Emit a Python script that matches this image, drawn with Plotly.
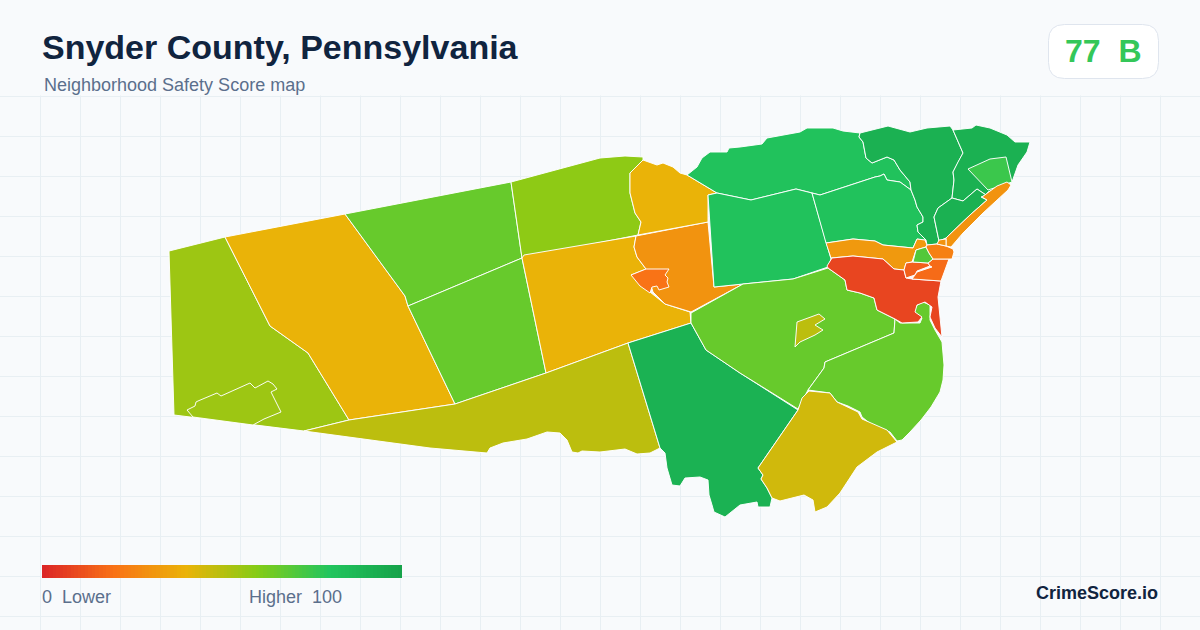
import plotly.graph_objects as go

# ---------- data ----------
legend_stops = [0, 0.2, 0.4, 0.6, 0.8, 1]
legend_colors = ["#dc2626", "#f97316", "#eab308", "#84cc16", "#22c55e", "#16a34a"]
legend_values = list(range(101))

west = [(169,251),(225,237),(270,326),(308,353),(349,420),(304,431),(174,415)]
west_town = [(187,410),(195,406),(196,402),(198,401),(217,393),(221,396),(250,383),(255,388),(268,381),(273,384),(277,389),(271,392),(281,412),(264,419),(253,425),(193,417)]
west_mid = [(225,237),(345,214),(405,296),(408,306),(455,404),(349,420),(308,353),(270,326)]
north_a = [(345,214),(511,182),(522,258),(408,306),(405,296)]
north_b = [(511,182),(600,158),(625,156),(643,157),(643,160),(630,173),(630,193),(635,213),(641,222),(638,235),(522,258)]
center_a = [(408,306),(522,258),(546,373),(455,404)]
center_b = [(522,258),(524,255),(636,236),(634,247),(637,257),(646,269),(631,275),(650,292),(665,304),(690,312),(691,323),(628,343),(546,373)]
center_c = [(636,236),(708,222),(714,287),(743,284),(691,312),(665,304),(653,292),(646,269),(637,257),(634,247)]
center_town = [(631,275),(646,269),(669,269),(665,275),(668,278),(667,282),(669,287),(659,290),(657,286),(652,287),(650,293),(640,286)]
north_c = [(643,160),(657,165),(663,163),(673,167),(680,173),(687,175),(717,193),(708,195),(708,222),(638,235),(641,222),(635,213),(630,193),(630,173)]
north_d = [(687,175),(697,167),(702,158),(710,152),(727,152),(729,148),(740,147),(762,144),(767,138),(800,132),(807,128),(833,128),(843,131),(860,133),(859,137),(863,142),(866,158),(872,163),(887,157),(894,160),(900,170),(910,182),(911,190),(900,182),(887,180),(884,174),(880,176),(875,177),(820,195),(812,193),(796,189),(751,200),(717,193)]
mid_a = [(708,195),(717,193),(751,200),(796,189),(812,193),(831,259),(828,267),(793,279),(743,284),(714,287)]
mid_b = [(812,193),(820,195),(875,177),(880,176),(884,174),(887,180),(900,182),(911,190),(915,200),(917,207),(923,217),(923,222),(917,225),(918,232),(926,240),(923,240),(917,239),(913,248),(883,245),(875,241),(853,239),(826,243)]
mid_c = [(826,243),(853,239),(875,241),(883,245),(913,248),(917,239),(925,240),(927,245),(926,247),(916,250),(912,262),(906,263),(904,270),(894,269),(883,259),(853,256),(831,258)]
borough_red = [(827,266),(832,258),(853,256),(883,259),(894,269),(904,270),(906,278),(912,279),(941,281),(938,297),(942,337),(935,328),(930,317),(932,307),(925,302),(917,305),(915,312),(922,317),(918,322),(902,323),(895,319),(877,310),(874,298),(860,293),(847,290),(845,280),(828,268)]
borough_o = [(906,263),(913,262),(928,263),(930,266),(917,271),(915,275),(906,278),(904,270)]
borough_p = [(933,259),(949,259),(941,281),(912,279),(915,275),(917,272),(932,267),(930,266),(928,263)]
borough_q = [(916,250),(926,247),(929,253),(933,259),(928,263),(913,262)]
borough_r = [(927,245),(937,244),(946,246),(953,249),(954,252),(952,259),(933,259),(929,253),(926,247)]
coast_strip = [(946,238),(970,215),(987,200),(982,197),(997,186),(1007,182),(1011,185),(1008,190),(983,213),(963,233),(951,247),(946,246)]
coast_small = [(937,244),(939,240),(946,239),(946,246)]
ridge_a = [(860,133),(873,130),(888,126),(910,132),(927,128),(950,126),(953,130),(963,153),(958,162),(953,172),(954,180),(952,198),(938,208),(934,217),(939,241),(937,244),(927,245),(926,240),(918,232),(917,225),(923,222),(923,217),(917,207),(915,200),(911,190),(910,182),(900,170),(894,160),(887,157),(872,163),(866,158),(863,142),(859,137)]
ridge_b = [(953,130),(972,128),(976,125),(990,128),(1007,135),(1015,142),(1030,142),(1027,152),(1018,165),(1013,178),(1012,182),(1000,186),(988,192),(986,195),(977,189),(963,201),(952,198),(954,180),(953,172),(958,162),(963,153)]
ridge_c = [(934,217),(938,208),(952,198),(963,201),(977,189),(986,195),(981,197),(987,200),(970,215),(946,238),(939,241)]
ridge_d = [(968,169),(990,159),(1006,157),(1012,182),(1000,186),(988,190)]
south_a = [(691,313),(743,284),(793,279),(828,268),(845,280),(847,290),(860,293),(874,298),(877,310),(895,319),(894,333),(825,362),(824,368),(808,390),(798,409),(740,373),(706,350),(691,323)]
south_town = [(797,322),(819,314),(825,319),(815,325),(823,330),(815,335),(800,342),(795,347)]
south_b = [(895,319),(900,323),(920,323),(922,318),(914,312),(917,305),(923,302),(930,305),(930,320),(935,330),(942,342),(944,365),(943,380),(940,392),(931,407),(921,420),(910,432),(902,440),(897,441),(890,432),(872,425),(862,417),(860,412),(848,406),(837,402),(830,393),(808,390),(824,368),(825,362),(894,333)]
south_c = [(809,391),(830,393),(837,402),(858,412),(862,419),(887,430),(897,442),(877,452),(857,467),(840,493),(827,507),(815,512),(813,500),(804,495),(780,501),(772,498),(767,488),(761,479),(763,475),(758,468),(798,410),(802,398)]
south_d = [(628,343),(691,323),(706,350),(740,373),(798,410),(758,468),(763,475),(761,479),(767,488),(772,498),(770,507),(758,507),(757,502),(740,505),(725,517),(714,512),(712,505),(709,495),(708,480),(700,477),(685,478),(680,486),(672,485),(669,475),(667,468),(665,453),(660,448)]
south_e = [(304,431),(349,420),(455,404),(546,373),(628,343),(660,448),(650,453),(637,454),(625,449),(600,452),(582,451),(578,453),(572,452),(567,440),(560,433),(547,432),(527,439),(503,443),(490,448),(487,453),(430,448)]

regions = [west, west_mid, north_a, north_b, center_a, center_b, center_c, north_c, north_d, mid_a, mid_b,
           mid_c, ridge_a, ridge_b, ridge_c, ridge_d, south_e, south_d, south_a, south_b, south_c,
           borough_red, borough_o, borough_p, borough_q, borough_r, coast_strip, coast_small,
           center_town, south_town, west_town]
scores = [55, 40, 66, 58, 66, 40, 30, 40, 82, 82, 82,
          32, 92, 92, 92, 75, 49, 91, 66, 66, 45,
          8, 15, 18, 70, 24, 30, 30,
          20, 49, 55]

title_text = "Snyder County, Pennsylvania"
subtitle_text = "Neighborhood Safety Score map"
badge_text = "77\u00a0\u00a0B"
brand_text = "CrimeScore.io"
legend_low_text = "0\u00a0\u00a0Lower"
legend_high_text = "Higher\u00a0\u00a0100"

# ---------- figure ----------
BG = "#f8fafc"
GRID = "#e8eff3"
INK = "#10243f"
MUTED = "#5b6f8c"
FONT = "Liberation Sans"
colorscale = [[s, c] for s, c in zip(legend_stops, legend_colors)]


def score_color(score):
    t = score / 100
    for (s0, c0), (s1, c1) in zip(colorscale, colorscale[1:]):
        if t <= s1:
            f = (t - s0) / (s1 - s0)
            a = [int(c0[i:i + 2], 16) for i in (1, 3, 5)]
            b = [int(c1[i:i + 2], 16) for i in (1, 3, 5)]
            return "rgb({},{},{})".format(*[round(u + (v - u) * f) for u, v in zip(a, b)])
    return legend_colors[-1]


fig = go.Figure()
for pts, score in zip(regions, scores):
    closed = pts + [pts[0]]
    fig.add_trace(go.Scatter(
        x=[p[0] for p in closed], y=[p[1] for p in closed],
        mode="lines", fill="toself",
        fillcolor=score_color(score),
        line=dict(color="rgba(255,255,255,0.95)", width=1),
        hoverinfo="skip", showlegend=False,
    ))

bar_dx = 360 / len(legend_values)
fig.add_trace(go.Heatmap(
    z=[legend_values], x0=42 + bar_dx / 2, dx=bar_dx, y0=571.5, dy=13,
    colorscale=colorscale, zmin=0, zmax=100, showscale=False, hoverinfo="skip",
))


def label(x, y, text, size, color, bold=False, anchor="left"):
    fig.add_annotation(
        x=x, y=y, xref="x", yref="y", text=f"<b>{text}</b>" if bold else text,
        showarrow=False, xanchor=anchor, yanchor="middle",
        font=dict(family=FONT, size=size, color=color),
    )


label(40, 47, title_text, 34, INK, bold=True)
label(42, 85, subtitle_text, 18, MUTED)
label(1102.5, 51, badge_text, 32, "#34c759", bold=True, anchor="center")
label(1160, 593, brand_text, 18, INK, bold=True, anchor="right")
label(40, 597, legend_low_text, 18, MUTED)
label(247, 597, legend_high_text, 18, MUTED)

r, x0, x1, y0, y1 = 16, 1048.5, 1158.5, 24.5, 78.5
badge_path = (f"M{x0+r},{y0} L{x1-r},{y0} Q{x1},{y0} {x1},{y0+r} L{x1},{y1-r} Q{x1},{y1} {x1-r},{y1} "
              f"L{x0+r},{y1} Q{x0},{y1} {x0},{y1-r} L{x0},{y0+r} Q{x0},{y0} {x0+r},{y0} Z")
fig.update_layout(
    width=1200, height=630, margin=dict(l=0, r=0, t=0, b=0),
    paper_bgcolor=BG, plot_bgcolor=BG, showlegend=False,
    xaxis=dict(range=[0, 1200], tick0=0, dtick=40, showgrid=True, gridcolor=GRID, gridwidth=1,
               zeroline=False, showticklabels=False, ticks="", fixedrange=True),
    yaxis=dict(range=[630, 0], tick0=16, dtick=40, showgrid=True, gridcolor=GRID, gridwidth=1,
               zeroline=False, showticklabels=False, ticks="", fixedrange=True),
    shapes=[
        dict(type="rect", xref="x", yref="y", x0=0, x1=1200, y0=0, y1=95.5,
             fillcolor=BG, line=dict(width=0), layer="between"),
        dict(type="path", xref="x", yref="y", path=badge_path, fillcolor="#ffffff",
             line=dict(color="#dfe5ee", width=1), layer="between"),
    ],
)
fig.write_html("out.html", config={"displayModeBar": False},
               post_script="document.body.style.margin='0';document.body.style.overflow='hidden';")
